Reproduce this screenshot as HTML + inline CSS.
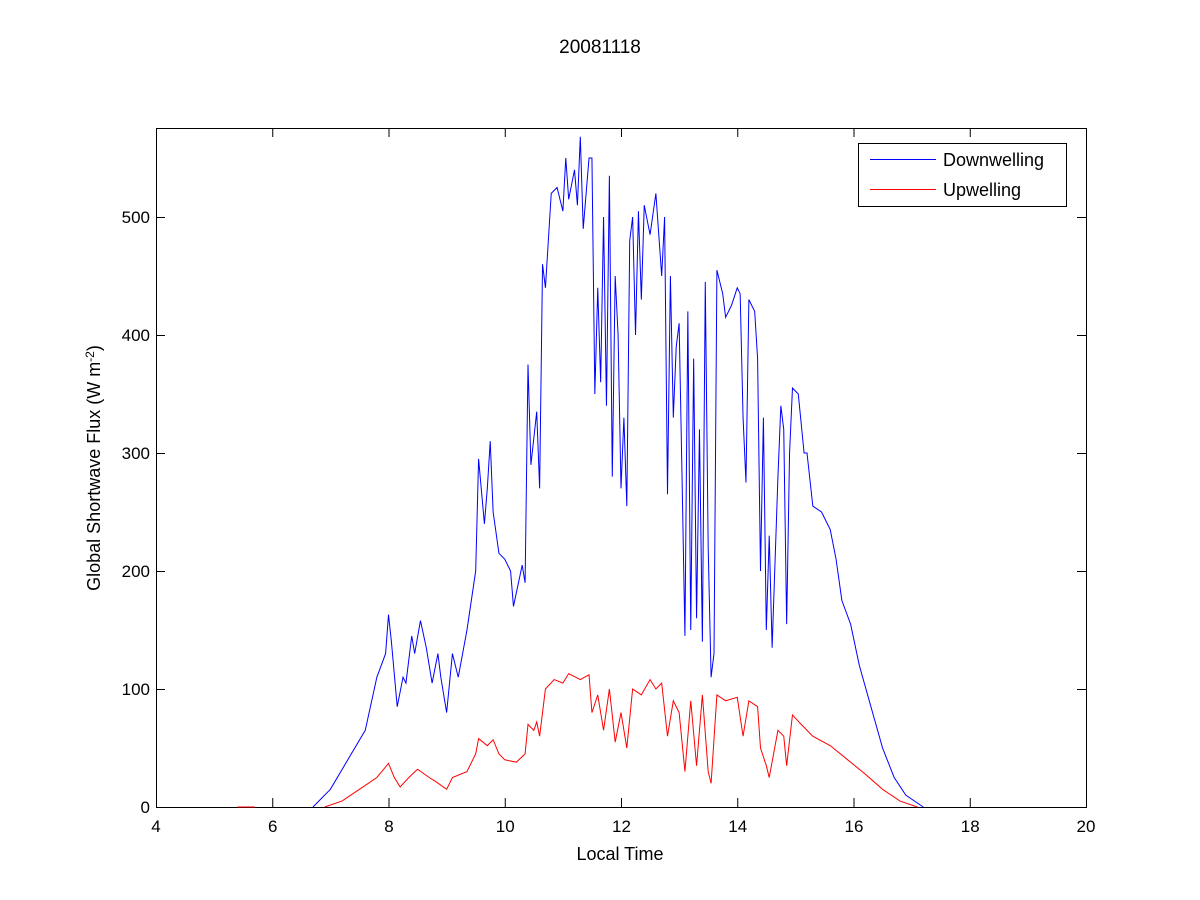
<!DOCTYPE html>
<html><head><meta charset="utf-8"><style>body{margin:0;background:#fff}svg{display:block}text{font-family:"Liberation Sans",sans-serif;fill:#000}</style></head>
<body>
<svg width="1200" height="900" viewBox="0 0 1200 900">
<rect width="1200" height="900" fill="#fff"/>
<text x="600" y="53" font-size="19" text-anchor="middle">20081118</text>
<rect x="156.5" y="128.5" width="930" height="679" fill="#fff" stroke="#000" stroke-width="1"/>
<g stroke="#000" stroke-width="1">
<path d="M156.5 807v-9M272.75 807v-9M389 807v-9M505.25 807v-9M621.5 807v-9M737.75 807v-9M854 807v-9M970.25 807v-9M156.5 128v9M272.75 128v9M389 128v9M505.25 128v9M621.5 128v9M737.75 128v9M854 128v9M970.25 128v9"/>
<path d="M156 689.5h9M156 571.5h9M156 453.5h9M156 335.5h9M156 217.5h9M1086 689.5h-9M1086 571.5h-9M1086 453.5h-9M1086 335.5h-9M1086 217.5h-9"/>
</g>
<g font-size="17" text-anchor="middle">
<text x="156" y="832">4</text><text x="272.75" y="832">6</text><text x="389" y="832">8</text><text x="505.25" y="832">10</text><text x="621.5" y="832">12</text><text x="737.75" y="832">14</text><text x="854" y="832">16</text><text x="970.25" y="832">18</text><text x="1086" y="832">20</text>
</g>
<g font-size="17" text-anchor="end">
<text x="150" y="813">0</text><text x="150" y="695">100</text><text x="150" y="577">200</text><text x="150" y="459">300</text><text x="150" y="341">400</text><text x="150" y="223">500</text>
</g>
<text x="620" y="860" font-size="18" text-anchor="middle">Local Time</text>
<text transform="translate(100,468) rotate(-90)" font-size="18" text-anchor="middle">Global Shortwave Flux (W m<tspan dy="-6" font-size="12">-2</tspan><tspan dy="6">)</tspan></text>
<g transform="translate(-76.5,807) scale(58.125,-1.18)" fill="none">
<polyline vector-effect="non-scaling-stroke" stroke="#0000ff" stroke-width="1" points="6.7,0 7.0,15 7.3,40 7.6,65 7.8,110 7.95,130 8.0,163 8.05,140 8.15,85 8.25,110 8.3,105 8.4,145 8.45,130 8.55,158 8.65,135 8.75,105 8.85,130 8.9,110 9.0,80 9.1,130 9.2,110 9.35,150 9.5,200 9.55,295 9.65,240 9.7,270 9.75,310 9.8,250 9.9,215 10.0,210 10.1,200 10.15,170 10.3,205 10.35,190 10.4,375 10.45,290 10.55,335 10.6,270 10.65,460 10.7,440 10.8,520 10.9,525 11.0,505 11.05,550 11.1,515 11.2,540 11.25,510 11.3,568 11.35,490 11.45,550 11.5,550 11.55,350 11.6,440 11.65,360 11.7,500 11.75,340 11.8,535 11.85,280 11.9,450 11.95,400 12.0,270 12.05,330 12.1,255 12.15,480 12.2,500 12.25,400 12.3,505 12.35,430 12.4,510 12.5,485 12.6,520 12.7,450 12.75,500 12.8,265 12.85,450 12.9,330 12.95,390 13.0,410 13.05,280 13.1,145 13.15,420 13.2,150 13.25,380 13.3,160 13.35,320 13.4,140 13.45,445 13.5,220 13.55,110 13.6,130 13.65,455 13.75,435 13.8,415 13.9,425 14.0,440 14.05,435 14.1,330 14.15,275 14.2,430 14.3,420 14.35,380 14.4,200 14.45,330 14.5,150 14.55,230 14.6,135 14.7,280 14.75,340 14.8,320 14.85,155 14.9,300 14.95,355 15.05,350 15.15,300 15.2,300 15.3,255 15.45,250 15.6,235 15.7,210 15.8,175 15.95,155 16.1,120 16.3,85 16.5,50 16.7,25 16.9,10 17.2,0"/>
<polyline vector-effect="non-scaling-stroke" stroke="#ff0000" stroke-width="1" points="5.4,0 5.7,0"/>
<polyline vector-effect="non-scaling-stroke" stroke="#ff0000" stroke-width="1" points="6.9,0 7.2,5 7.5,15 7.8,25 8.0,37 8.1,25 8.2,17 8.35,25 8.5,32 8.7,25 8.8,22 9.0,15 9.1,25 9.35,30 9.5,45 9.55,58 9.7,52 9.8,57 9.9,45 10.0,40 10.2,38 10.35,45 10.4,70 10.5,65 10.55,72 10.6,60 10.7,100 10.85,108 11.0,105 11.1,113 11.3,108 11.45,112 11.5,80 11.6,95 11.7,65 11.8,100 11.9,55 12.0,80 12.1,50 12.2,100 12.35,95 12.5,108 12.6,100 12.7,105 12.8,60 12.9,90 13.0,80 13.1,30 13.2,90 13.3,35 13.4,95 13.5,30 13.55,20 13.65,95 13.8,90 14.0,93 14.1,60 14.2,90 14.35,85 14.4,50 14.5,35 14.55,25 14.7,65 14.8,60 14.85,35 14.95,78 15.1,70 15.3,60 15.6,52 15.9,40 16.2,28 16.5,15 16.8,5 17.1,0"/>
</g>
<rect x="858.5" y="143.5" width="208" height="63" fill="#fff" stroke="#000"/>
<rect x="870" y="159" width="66" height="1" fill="#0000ff"/>
<rect x="870" y="189" width="66" height="1" fill="#ff0000"/>
<text x="943" y="166" font-size="18">Downwelling</text>
<text x="943" y="196" font-size="18">Upwelling</text>
</svg>
</body></html>
